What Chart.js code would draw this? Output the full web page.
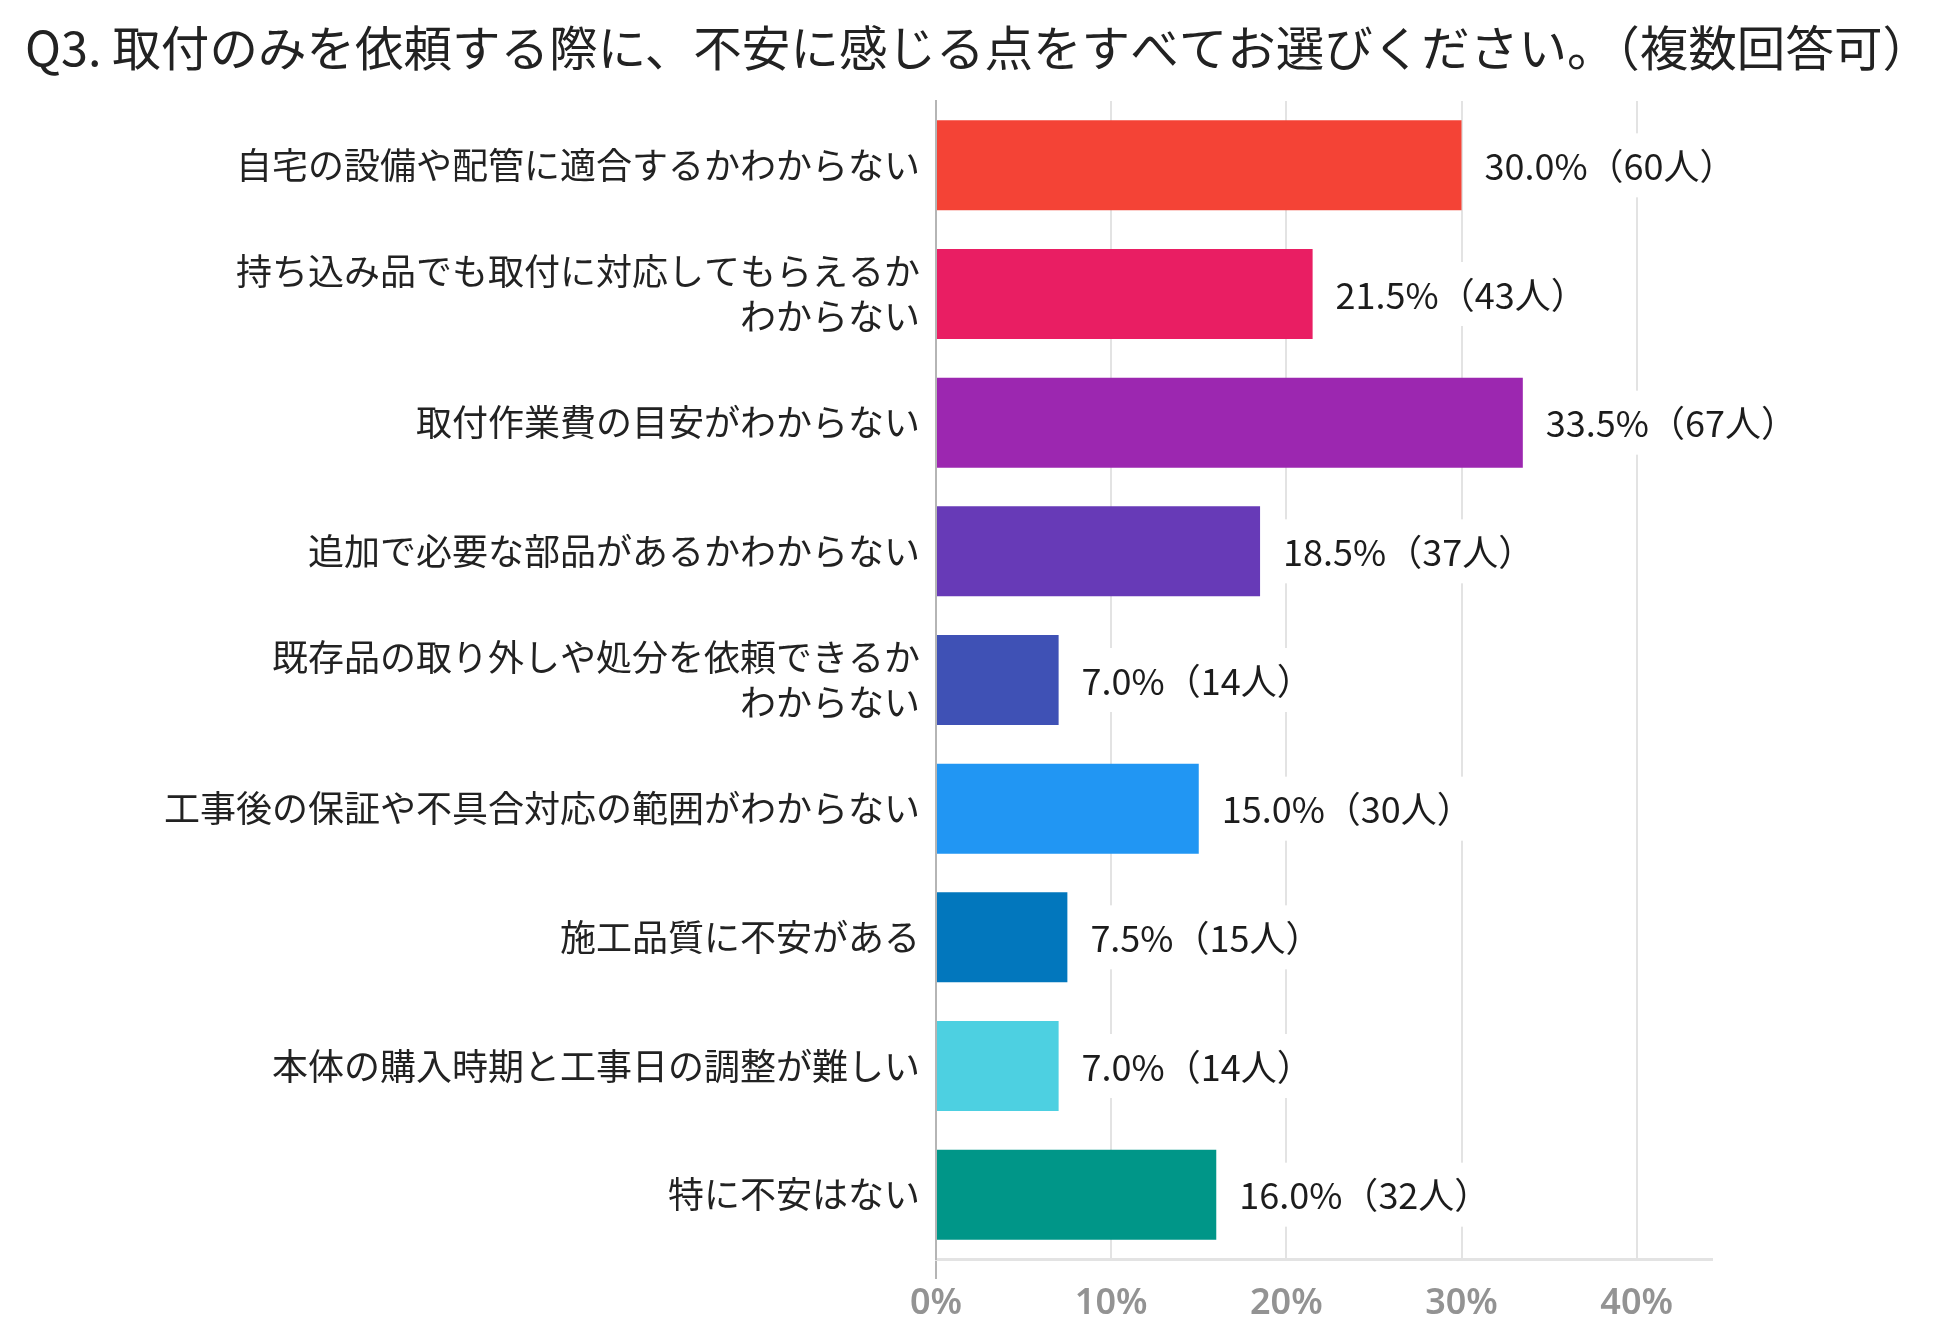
<!DOCTYPE html>
<html>
<head>
<meta charset="UTF-8">
<title>Q3 取付のみを依頼する際の不安</title>
<script src="https://cdn.jsdelivr.net/npm/chart.js@4.4.1/dist/chart.umd.min.js"></script>
<style>
  html, body { margin: 0; padding: 0; background: #fff; }
  #wrap { width: 1950px; height: 1340px; }
</style>
</head>
<body>
<div id="wrap"><canvas id="c" width="1950" height="1340"></canvas></div>
<script>
// 回答データ
const titleText = 'Q3. 取付のみを依頼する際に、不安に感じる点をすべてお選びください。（複数回答可）';
const categories = [
  '自宅の設備や配管に適合するかわからない',
  ['持ち込み品でも取付に対応してもらえるか', 'わからない'],
  '取付作業費の目安がわからない',
  '追加で必要な部品があるかわからない',
  ['既存品の取り外しや処分を依頼できるか', 'わからない'],
  '工事後の保証や不具合対応の範囲がわからない',
  '施工品質に不安がある',
  '本体の購入時期と工事日の調整が難しい',
  '特に不安はない'
];
const percents = [30.0, 21.5, 33.5, 18.5, 7.0, 15.0, 7.5, 7.0, 16.0];
const counts = [60, 43, 67, 37, 14, 30, 15, 14, 32];
const barColors = ['#F44336', '#E91E63', '#9C27B0', '#673AB7', '#3F51B5',
                   '#2196F3', '#0277BD', '#4DD0E1', '#009688'];
const xTicks = [0, 10, 20, 30, 40];

const JP = "'Noto Sans CJK JP', 'Noto Sans', sans-serif";

// タイトル（元画像は横に引き伸ばされているので幅を合わせる）
const wideTitle = {
  id: 'wideTitle',
  afterDraw(chart) {
    const ctx = chart.ctx;
    ctx.save();
    ctx.font = '48px ' + JP;
    const w = ctx.measureText(titleText).width;
    ctx.translate(25, 48);
    ctx.scale(1906 / w, 1);
    ctx.textBaseline = 'middle';
    ctx.textAlign = 'left';
    ctx.fillStyle = '#222';
    ctx.fillText(titleText, 0, 0);
    ctx.restore();
  }
};

// 棒の右側に「xx.x%（n人）」を白背景つきで描く
const valueLabels = {
  id: 'valueLabels',
  afterDatasetsDraw(chart) {
    const ctx = chart.ctx;
    const meta = chart.getDatasetMeta(0);
    ctx.save();
    ctx.font = '36px ' + JP;
    ctx.textBaseline = 'middle';
    ctx.textAlign = 'left';
    meta.data.forEach((bar, i) => {
      const text = percents[i].toFixed(1) + '%（' + counts[i] + '人）';
      const x = bar.x + 23;
      const w = ctx.measureText(text).width;
      ctx.fillStyle = '#ffffff';
      ctx.fillRect(x - 8, bar.y - 32, w + 16, 64);
      ctx.fillStyle = '#1c1c1c';
      ctx.fillText(text, x, bar.y + 1);
    });
    ctx.restore();
  }
};

new Chart(document.getElementById('c'), {
  type: 'bar',
  data: {
    labels: categories,
    datasets: [{
      data: percents,
      backgroundColor: barColors,
      borderWidth: 0,
      barPercentage: 0.70,
      categoryPercentage: 1.0
    }]
  },
  options: {
    indexAxis: 'y',
    responsive: false,
    animation: false,
    devicePixelRatio: 1,
    layout: { padding: { left: 0, right: 238, top: 101, bottom: 0 } },
    plugins: {
      legend: { display: false },
      tooltip: { enabled: false },
      title: { display: false }
    },
    scales: {
      x: {
        min: 0,
        max: 44.3,
        afterBuildTicks(scale) {
          scale.ticks = xTicks.map(v => ({ value: v }));
        },
        afterFit(scale) { scale.height = 81; },
        grid: {
          color: ctx => ctx.index === 0 ? '#b5b5b5' : '#e3e3e3',
          lineWidth: 2,
          tickLength: 20,
          tickColor: ctx => ctx.index === 0 ? '#b5b5b5' : 'rgba(0,0,0,0)'
        },
        border: { display: true, color: '#e3e3e3', width: 3 },
        ticks: {
          padding: 3,
          color: '#939393',
          font: { family: "'Noto Sans', sans-serif", size: 36, weight: '600' },
          callback: v => v + '%'
        }
      },
      y: {
        afterFit(scale) { scale.width = 936; },
        grid: { display: false, drawTicks: false },
        border: { display: true, color: '#b5b5b5', width: 2 },
        ticks: {
          padding: 16,
          color: '#222',
          font: { family: JP, size: 36, lineHeight: 1.25 }
        }
      }
    }
  },
  plugins: [valueLabels, wideTitle]
});
</script>
</body>
</html>
